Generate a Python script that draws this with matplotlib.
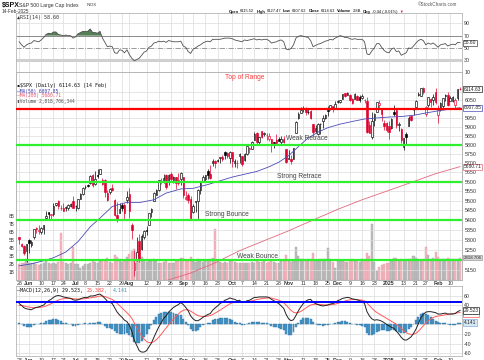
import matplotlib
matplotlib.use('Agg')
import matplotlib.pyplot as plt
import numpy as np
from matplotlib.ticker import FixedLocator, NullLocator

plt.rcParams['font.family'] = ['Liberation Sans', 'DejaVu Sans']

# ---------------- data (daily, 28-May-2024 .. 14-Feb-2025) ----------------
opens = [5315, 5278, 5270, 5244,
         5297, 5275, 5314, 5358, 5343, 5341, 5353, 5409, 5441, 5424, 5432, 5477, 5500, 5460, 5460, 5461, 5460, 5473, 5499,
         5471, 5461, 5507, 5537, 5573, 5584, 5591, 5635, 5590, 5638, 5644, 5610, 5608, 5543, 5545, 5566, 5505, 5428, 5434, 5476, 5478, 5505,
         5537, 5376, 5151, 5206, 5294, 5253, 5312, 5351, 5376, 5442, 5501, 5530, 5557, 5603, 5603, 5637, 5603, 5639, 5602, 5624, 5607, 5612,
         5624, 5507, 5532, 5507, 5443, 5491, 5496, 5557, 5603, 5616, 5655, 5641, 5703, 5709, 5712, 5727, 5733, 5762, 5756, 5727,
         5758, 5699, 5699, 5736, 5737, 5715, 5751, 5779, 5776, 5829, 5867, 5816, 5875, 5860, 5857, 5833, 5834, 5817, 5827, 5834, 5818, 5833, 5775,
         5723, 5725, 5722, 5864, 5947, 5976, 6009, 6004, 5986, 5989, 5913, 5877, 5860, 5917, 5930, 5947, 5993, 6000, 6015, 6004,
         6041, 6043, 6059, 6090, 6081, 6083, 6057, 6060, 6074, 6068, 6063, 6053, 6048, 5912, 5842, 5940, 5985, 6024, 6006, 5920, 5920,
         5903, 5892, 5982, 5993, 5910, 5890, 5789, 5862, 5905, 5962, 5995, 6014, 6082, 6076, 6121, 5970, 6026, 6058, 6051, 6096,
         5969, 5998, 6020, 6073, 6083, 6047, 6049, 6025, 6061, 6115.52]
highs = [5315, 5282, 5271, 5280,
         5302, 5299, 5354, 5362, 5376, 5365, 5376, 5448, 5441, 5432, 5488, 5487, 5506, 5479, 5490, 5472, 5483, 5490, 5524,
         5479, 5510, 5539, 5570, 5583, 5590, 5636, 5642, 5655, 5670, 5669, 5622, 5615, 5557, 5567, 5586, 5508, 5491, 5488, 5487, 5489, 5551,
         5566, 5383, 5250, 5312, 5331, 5327, 5351, 5371, 5436, 5463, 5546, 5564, 5608, 5620, 5643, 5644, 5641, 5652, 5631, 5627, 5647, 5651,
         5626, 5552, 5540, 5523, 5484, 5501, 5560, 5600, 5636, 5637, 5670, 5690, 5721, 5716, 5725, 5735, 5742, 5767, 5763, 5765,
         5758, 5720, 5718, 5753, 5739, 5755, 5796, 5790, 5822, 5871, 5870, 5843, 5879, 5873, 5867, 5863, 5834, 5818, 5862, 5842, 5848, 5850, 5776,
         5772, 5742, 5784, 5933, 5983, 6012, 6018, 6010, 6009, 5993, 5916, 5908, 5924, 5920, 5965, 5973, 6020, 6025, 6020, 6045,
         6053, 6052, 6087, 6095, 6099, 6089, 6065, 6093, 6080, 6079, 6086, 6057, 6071, 5935, 5982, 5978, 6041, 6050, 6006, 5941, 5929,
         5935, 5950, 6022, 6001, 5927, 5891, 5837, 5871, 5960, 5965, 6009, 6051, 6100, 6119, 6128, 6018, 6070, 6062, 6086, 6121,
         6023, 6042, 6062, 6084, 6101, 6074, 6076, 6063, 6116, 6127.47]
lows = [5280, 5262, 5222, 5191,
        5234, 5265, 5304, 5335, 5331, 5331, 5327, 5404, 5403, 5403, 5421, 5472, 5455, 5451, 5447, 5447, 5451, 5469, 5460,
        5446, 5455, 5507, 5531, 5563, 5574, 5587, 5571, 5583, 5619, 5639, 5583, 5522, 5497, 5534, 5550, 5419, 5390, 5434, 5445, 5398, 5487,
        5410, 5302, 5120, 5193, 5191, 5247, 5304, 5326, 5376, 5418, 5501, 5530, 5551, 5586, 5591, 5560, 5585, 5602, 5593, 5560, 5585, 5581,
        5512, 5503, 5488, 5402, 5435, 5442, 5406, 5536, 5600, 5605, 5614, 5615, 5682, 5675, 5705, 5698, 5712, 5721, 5728, 5703,
        5681, 5679, 5675, 5702, 5687, 5714, 5745, 5755, 5776, 5829, 5804, 5804, 5840, 5846, 5825, 5822, 5762, 5784, 5799, 5823, 5804, 5810, 5703,
        5723, 5696, 5722, 5864, 5946, 5976, 5985, 5969, 5973, 5946, 5854, 5866, 5853, 5860, 5896, 5946, 5963, 5993, 5985, 6004,
        6033, 6033, 6058, 6071, 6080, 6048, 6029, 6060, 6050, 6039, 6060, 6035, 5868, 5866, 5832, 5903, 5983, 6004, 5933, 5880, 5869,
        5830, 5888, 5961, 5891, 5874, 5809, 5773, 5802, 5905, 5931, 5966, 6007, 6076, 6074, 6089, 5962, 6013, 6012, 6024, 6030,
        5923, 5990, 6007, 6045, 6020, 6047, 6042, 6003, 6050, 6107.62]
closes = [5306, 5267, 5235, 5278,
          5283, 5291, 5354, 5352, 5347, 5360, 5375, 5421, 5433, 5431, 5473, 5487, 5473, 5464, 5448, 5469, 5478, 5483, 5460,
          5475, 5509, 5537, 5567, 5572, 5577, 5633, 5585, 5615, 5631, 5667, 5588, 5545, 5505, 5564, 5555, 5427, 5399, 5459, 5464, 5436, 5522,
          5446, 5347, 5186, 5240, 5199, 5319, 5344, 5344, 5434, 5455, 5543, 5554, 5608, 5597, 5621, 5570, 5634, 5616, 5625, 5592, 5591, 5648,
          5529, 5520, 5503, 5408, 5471, 5496, 5554, 5596, 5626, 5634, 5634, 5618, 5714, 5703, 5718, 5732, 5722, 5745, 5738, 5762,
          5709, 5710, 5700, 5751, 5696, 5751, 5792, 5780, 5815, 5859, 5815, 5843, 5841, 5865, 5853, 5851, 5797, 5809, 5808, 5823, 5832, 5813, 5705,
          5729, 5712, 5782, 5929, 5973, 5995, 6001, 5984, 5985, 5949, 5870, 5894, 5917, 5917, 5949, 5969, 5987, 6021, 5999, 6032,
          6047, 6050, 6087, 6075, 6090, 6053, 6034, 6084, 6051, 6051, 6074, 6050, 5872, 5867, 5931, 5975, 6040, 6037, 5971, 5907, 5882,
          5869, 5942, 5975, 5909, 5918, 5827, 5836, 5843, 5950, 5937, 5997, 6049, 6086, 6119, 6101, 6012, 6068, 6039, 6071, 6041,
          5994, 6037, 6061, 6083, 6026, 6066, 6068, 6052, 6115, 6114.63]
volume_b = [2.0, 2.1, 2.1, 2.6,
            2.1, 2.2, 2.2, 2.0, 1.9, 2.0, 2.2, 2.4, 2.1, 2.0, 2.1, 2.0, 2.3, 5.9, 2.3, 2.2, 2.0, 2.1, 4.2,
            2.0, 2.0, 1.5, 1.8, 2.0, 2.0, 2.1, 2.5, 2.3, 2.2, 2.4, 2.5, 2.5, 2.8, 2.3, 2.2, 3.2, 2.9, 2.6, 2.3, 2.4, 2.9,
            3.3, 3.6, 3.9, 3.4, 3.2, 2.9, 2.4, 2.3, 2.4, 2.4, 2.6, 2.4, 2.2, 2.2, 2.3, 2.4, 2.2, 2.2, 2.2, 2.5, 2.4, 2.8,
            2.8, 2.5, 2.4, 2.9, 2.4, 2.3, 2.6, 2.4, 2.3, 2.4, 2.5, 2.7, 2.8, 6.4, 2.3, 2.3, 2.2, 2.3, 2.2, 2.5,
            2.5, 2.3, 2.2, 2.2, 2.2, 2.1, 2.1, 2.2, 2.3, 2.2, 2.4, 2.3, 2.3, 2.4, 2.2, 2.3, 2.4, 2.3, 2.2, 2.2, 2.4, 2.5, 3.2,
            2.5, 2.3, 2.5, 4.1, 3.0, 2.7, 2.6, 2.5, 2.6, 2.7, 3.4, 2.5, 2.4, 2.6, 2.7, 2.7, 4.0, 2.6, 2.3, 1.5,
            2.5, 2.4, 2.4, 2.3, 2.3, 2.5, 2.6, 2.4, 2.4, 2.3, 2.6, 2.5, 3.4, 3.0, 7.0, 2.3, 1.1, 1.6, 1.9, 2.0, 2.1,
            2.2, 2.4, 2.8, 2.8, 2.5, 2.7, 2.5, 2.6, 2.7, 2.6, 3.0, 2.8, 2.6, 2.5, 2.7, 4.1, 3.2, 2.7, 2.8, 3.5,
            2.9, 2.6, 2.7, 2.6, 2.8, 2.6, 2.6, 2.6, 2.7, 2.82]
rsi14 = [60, 55, 51, 55, 57, 58, 62, 61, 60, 63,
         67, 72, 74, 73, 76, 76, 72, 71, 70, 71,
         70, 70, 66, 68, 73, 75, 77, 77, 77, 81,
         75, 75, 74, 77, 66, 59, 52, 53, 52, 42,
         41, 47, 46, 42, 47, 39, 33, 29, 31, 33,
         38, 43, 45, 51, 53, 58, 59, 61, 60, 61,
         59, 62, 61, 60, 60, 60, 61, 53, 51, 44,
         41, 48, 50, 53, 55, 58, 60, 61, 60, 64,
         64, 64, 64, 65, 66, 66, 66, 65, 63, 62,
         61, 60, 63, 62, 63, 64, 65, 63, 64, 63,
         64, 64, 62, 58, 59, 60, 62, 63, 60, 48,
         47, 49, 55, 66, 69, 70, 69, 68, 67, 62,
         52, 54, 56, 57, 59, 61, 62, 64, 63, 66,
         68, 70, 69, 67, 67, 65, 64, 65, 64, 64,
         64, 60, 40, 39, 45, 50, 57, 57, 51, 46,
         43, 42, 48, 50, 44, 45, 38, 40, 42, 50,
         49, 53, 58, 62, 64, 62, 55, 58, 56, 58,
         55, 51, 55, 56, 57, 53, 55, 56, 55, 59, 58.6]
macd_line = [44, 40, 35, 33, 32, 31, 34, 36, 37, 39,
             41, 46, 50, 53, 57, 60, 61, 60, 58, 57,
             56, 55, 52, 51, 52, 54, 56, 57, 57, 60,
             60, 61, 63, 64, 60, 55, 49, 47, 44, 35,
             26, 20, 15, 9, 6, -2, -14, -33, -44, -55,
             -58, -58, -55, -47, -39, -27, -16, -5, 4, 13,
             18, 26, 31, 36, 39, 42, 46, 42, 36, 29,
             18, 12, 8, 8, 11, 15, 18, 21, 23, 30,
             35, 39, 44, 47, 51, 53, 56, 54, 53, 50,
             51, 46, 47, 50, 51, 54, 57, 57, 58, 58,
             58, 58, 57, 53, 50, 47, 44, 39, 34, 21,
             12, 8, 10, 19, 29, 37, 44, 49, 52, 53,
             47, 44, 42, 40, 39, 40, 41, 43, 44, 46,
             50, 52, 55, 56, 57, 56, 54, 53, 52, 50,
             49, 44, 27, 18, 12, 9, 10, 9, 7, 4,
             0, -3, -6, -8, -14, -20, -27, -32, -33, -30,
             -26, -19, -10, 2, 14, 21, 26, 27, 27, 26,
             25, 22, 22, 23, 24, 22, 22, 22, 23, 27, 29.523]
macd_signal = [40, 40, 39, 37.8, 36.6, 35.5, 35.2, 35.4, 35.7, 36.4,
               37.3, 39, 41.2, 43.6, 46.3, 49, 51.4, 53.1, 54.1, 54.7,
               54.9, 54.9, 54.4, 53.7, 53.3, 53.5, 54, 54.6, 55.1, 56.1,
               56.8, 57.7, 58.7, 59.8, 59.8, 58.9, 56.9, 54.9, 52.7, 49.2,
               44.5, 39.6, 34.7, 29.6, 24.8, 19.5, 12.8, 3.6, -5.9, -15.7,
               -24.2, -30.9, -35.7, -38, -38.2, -36, -32, -26.6, -20.5, -13.8,
               -7.4, -0.7, 5.6, 11.7, 17.1, 22.1, 26.9, 29.9, 31.1, 30.7,
               28.2, 24.9, 21.5, 18.8, 17.3, 16.8, 17, 17.8, 18.9, 21.1,
               23.9, 26.9, 30.3, 33.7, 37.1, 40.3, 43.4, 45.5, 47, 47.6,
               48.3, 47.8, 47.7, 48.1, 48.7, 49.8, 51.2, 52.4, 53.5, 54.4,
               55.1, 55.7, 56, 55.4, 54.3, 52.8, 51.1, 48.7, 45.7, 40.8,
               35, 29.6, 25.7, 24.4, 25.3, 27.6, 30.9, 34.5, 38, 41,
               42.2, 42.6, 42.5, 42, 41.4, 41.1, 41.1, 41.5, 42, 42.8,
               44.2, 45.8, 47.6, 49.3, 50.8, 51.9, 52.3, 52.4, 52.3, 51.9,
               51.3, 49.8, 45.3, 39.8, 34.3, 29.2, 25.4, 22.1, 19.1, 16.1,
               12.9, 9.7, 6.6, 3.7, 0.2, -3.9, -8.5, -13.2, -17.2, -19.7,
               -21, -20.6, -18.5, -14.4, -8.7, -2.8, 3, 7.8, 11.6, 14.5,
               16.6, 17.7, 18.5, 19.4, 20.4, 21.5, 22.3, 22.9, 23.5, 24.4, 25.382]
ma50_days = [0, 5, 10, 14, 19, 24, 29, 33, 38, 44, 49, 55, 60, 66, 71, 77, 82, 87, 92, 97,
             102, 106, 110, 114, 118, 122, 126, 131, 136, 141, 146, 151, 156, 161, 166, 171, 176, 180]
ma50_vals = [5170, 5180, 5195, 5210, 5238, 5290, 5365, 5410, 5470, 5492, 5490, 5505, 5540, 5562, 5565, 5585, 5605, 5625, 5640, 5655,
             5680, 5705, 5740, 5790, 5838, 5870, 5895, 5915, 5930, 5944, 5950, 5955, 5958, 5965, 5978, 5990, 6000, 6008]
ma200_days = [55, 62, 70, 80, 90, 100, 110, 120, 130, 140, 150, 160, 170, 180]
ma200_vals = [5080, 5105, 5135, 5185, 5245, 5295, 5345, 5400, 5455, 5505, 5550, 5596, 5643, 5681]

tick_days = [0, 4, 9, 14, 18, 23, 27, 32, 37, 42, 45, 52, 57, 62, 67, 71, 76, 81, 87, 91, 96, 101, 106,
             110, 116, 121, 126, 130, 135, 140, 145, 151, 157, 162, 166, 171, 176]
tick_labels = ['28', 'Jun', '10', '17', '24', 'Jul', '8', '15', '22', '29', 'Aug', '12', '19', '26', 'Sep', '9', '16', '23',
               'Oct', '7', '14', '21', '28', 'Nov', '11', '18', '25', 'Dec', '9', '16', '23', '2025', '13', '21', '27', 'Feb', '10']

top_level = 6000
green_levels = [5800, 5600, 5400, 5200]
level_notes = ['Weak Retrace', 'Strong Retrace', 'Strong Bounce', 'Weak Bounce']

# ---------------- figure ----------------
W, H = 485, 360
fig = plt.figure(figsize=(4.85, 3.6), dpi=100)
fig.patch.set_facecolor('white')


def panel(top, bottom):
    return [16 / W, 1 - bottom / H, 446 / W, (bottom - top) / H]


ax_rsi = fig.add_axes(panel(13, 72.4))
ax_vol = fig.add_axes(panel(72.4, 280))
ax = ax_vol.twinx()
ax_macd = fig.add_axes(panel(286, 356))

x = np.arange(len(closes))
XL = (-1.3, 180.8)
GRID = '#dcdcdc'
LBL = '#333333'
FS = 3.8

for a in (ax_rsi, ax_vol, ax, ax_macd):
    a.set_xlim(*XL)
    a.set_xticks(tick_days)
    for s in a.spines.values():
        s.set_color('#b5b5b5')
        s.set_linewidth(0.6)
    a.tick_params(length=0, labelsize=FS, colors=LBL, pad=1.5)

for a in (ax_rsi, ax_vol, ax_macd):
    a.grid(axis='x', color=GRID, lw=0.5)
    a.set_axisbelow(True)


def right_box(a, val, s, ec, fc='white', z=10):
    a.annotate(s, xy=(1, val), xycoords=('axes fraction', 'data'), xytext=(1.2, 0),
               textcoords='offset points', va='center', ha='left', fontsize=3.5, color='#222',
               bbox=dict(boxstyle='square,pad=0.12', fc=fc, ec=ec, lw=0.5), annotation_clip=False, zorder=z)


def bold_months(a):
    for t in a.get_xticklabels():
        if not t.get_text().isdigit() or t.get_text() == '2025':
            t.set_fontweight('bold')


# ---- RSI ----
rsi = np.array(rsi14, dtype=float)
ax_rsi.set_ylim(10, 107)
ax_rsi.axhline(30, color='#d0d0d0', lw=2.2, zorder=1)
ax_rsi.axhline(70, color='#8a8a8a', lw=0.7, zorder=1)
ax_rsi.axhline(50, color='#8a8a8a', lw=0.6, ls='-.', zorder=1)
ax_rsi.axhline(90, color=GRID, lw=0.5, zorder=0)
ax_rsi.fill_between(x, 70, rsi, where=rsi >= 70, interpolate=True, color='#557f55', lw=0, zorder=2)
ax_rsi.plot(x, rsi, color='#505050', lw=0.6, zorder=3)
ax_rsi.yaxis.tick_right()
ax_rsi.set_yticks([90, 70, 50, 30, 10])
ax_rsi.set_xticklabels([])
right_box(ax_rsi, rsi14[-1], '58.60', '#444444')

# ---- volume (behind) ----
prev_close = [opens[0]] + closes[:-1]
up = [c >= p for c, p in zip(closes, prev_close)]
vcol = ['#bdbdbd' if u else '#f2b5be' for u in up]
ax_vol.bar(x, volume_b, width=0.85, color=vcol, edgecolor=['#a8a8a8' if u else '#e8a0aa' for u in up],
           lw=0.3, zorder=1)
ax_vol.set_ylim(0, 209 / 8)
ax_vol.set_yticks(range(1, 9))
ax_vol.set_yticklabels([f'{v}B' for v in range(1, 9)])
ax_vol.tick_params(axis='y', labelsize=3.4, pad=1)
ax_vol.set_xticklabels(tick_labels)
bold_months(ax_vol)
ax_vol.tick_params(axis='x', pad=0.8)
ax_vol.annotate('2818.706', xy=(1, volume_b[-1]), xycoords=('axes fraction', 'data'), xytext=(1.2, 0),
                textcoords='offset points', va='center', ha='left', fontsize=3.2, color='#222',
                bbox=dict(boxstyle='square,pad=0.12', fc='#d8d8d8', ec='#999', lw=0.5), annotation_clip=False,
                zorder=10)

# ---- price (log) ----
ax.set_yscale('log')
ax.set_ylim(5101, 6213)
price_ticks = list(range(5150, 6101, 50))
hidden = {6100, 6000, 5200}          # covered by the value boxes on the reference
ax.yaxis.set_major_locator(FixedLocator(price_ticks))
ax.yaxis.set_minor_locator(NullLocator())
ax.set_yticks(price_ticks)
ax.set_yticklabels(['' if p in hidden else str(p) for p in price_ticks])
ax.tick_params(axis='y', labelsize=FS, pad=2)
for p in price_ticks:
    ax.axhline(p, color=GRID, lw=0.5, zorder=0)

for i in x:
    o, hi, lo, c = opens[i], highs[i], lows[i], closes[i]
    col = '#000000' if up[i] else '#e0002c'
    ax.vlines(i, lo, hi, color=col, lw=0.5, zorder=3)
    face = 'white' if c >= o else col
    ax.bar(i, max(abs(c - o), 1.0), bottom=min(o, c), width=0.62, facecolor=face,
           edgecolor=col, lw=0.45, zorder=4)

ax.plot(ma50_days, ma50_vals, color='#4b4bb8', lw=0.6, zorder=5)
ax.plot(ma200_days, ma200_vals, color='#e5677f', lw=0.6, zorder=5)

ax.axhline(top_level, color='#ff0000', lw=1.6, zorder=6)
for lv in green_levels:
    ax.axhline(lv, color='#2ef02e', lw=1.6, zorder=6)

ax.text(92, 6184, 'Top of Range', color='#ff3b3b', fontsize=4.8, ha='center', va='center', zorder=7)
note_pos = [(109, 5833), (105.3, 5627), (75.9, 5429), (88.9, 5218)]
for (nx, ny), s in zip(note_pos, level_notes):
    ax.text(nx, ny, s, color='#444444', fontsize=4.8, ha='left', va='center', zorder=7)

right_box(ax, closes[-1], '6114.63', '#222222')
right_box(ax, ma50_vals[-1], '6007.85', '#4b4bb8')
right_box(ax, ma200_vals[-1], '5680.71', '#e5677f')

# ---- MACD ----
macd = np.array(macd_line, dtype=float)
sig = np.array(macd_signal, dtype=float)
hist = macd - sig
ax_macd.set_ylim(-66.3, 81)
macd_ticks = [60, 40, 20, 0, -20, -40, -60]
ax_macd.set_yticks(macd_ticks)
ax_macd.set_yticklabels(['' if v in (20, 0) else str(v) for v in macd_ticks])
ax_macd.yaxis.tick_right()
for v in macd_ticks:
    ax_macd.axhline(v, color=GRID, lw=0.5, zorder=0)
ax_macd.bar(x, hist, width=0.8, color='#4a97c8', edgecolor='#2d74a6', lw=0.3, zorder=2)
ax_macd.plot(x, sig, color='#ff5a5a', lw=0.7, zorder=3)
ax_macd.plot(x, macd, color='#222222', lw=0.7, zorder=4)
ax_macd.axhline(47, color='#0000ff', lw=1.4, zorder=5)
ax_macd.set_xticklabels(tick_labels)
bold_months(ax_macd)
right_box(ax_macd, macd_signal[-1] - 3, '25.382', '#ff5a5a', z=9)
right_box(ax_macd, macd_line[-1], '29.523', '#222222', z=10)
right_box(ax_macd, hist[-1], '4.141', '#7fb2d8', fc='#d7e8f5')

# ---- texts ----
MONO = ['DejaVu Sans Mono', 'DejaVu Sans']


def ftext(px, py, s, **kw):
    return fig.text(px / W, 1 - py / H, s, va='center', ha='left', **kw)


ftext(1.5, 5, '$SPX', fontsize=5.0, fontweight='bold', color='#111')
ftext(19, 5, 'S&P 500 Large Cap Index', fontsize=3.7, color='#333')
ftext(87, 5, 'INDX', fontsize=3.0, color='#333')
ftext(2, 11.5, '14-Feb-2025', fontsize=3.4, color='#333')
ftext(418, 4, '\u00a9StockCharts.com', fontsize=3.3, color='#555')

hdr = [('Open', True), ('6115.52', False), ('High', True), ('6127.47', False),
       ('Low', True), ('6107.62', False), ('Close', True), ('6114.63', False),
       ('Volume', True), ('2.8B', False), ('Chg', True), ('-0.44 (-0.01%)', False)]
fig.canvas.draw()
rend = fig.canvas.get_renderer()
hx = 229
for s, b in hdr:
    t = ftext(hx, 11.5, s, fontsize=2.85, fontweight='bold' if b else 'normal', color='#111')
    hx += t.get_window_extent(renderer=rend).width + (1.0 if b else 2.2)
ftext(hx, 11.5, '\u25bc', fontsize=2.6, color='#e0002c')

ftext(17, 18, '\u25b2RSI(14) 58.60', fontsize=3.6, family=MONO, color='#333')
ftext(17, 86, '\u25aa$SPX (Daily) 6114.63 (14 Feb)', fontsize=3.6, family=MONO, color='#111')
ftext(17, 91, '\u2014MA(50) 6007.85', fontsize=3.3, family=MONO, color='#3b3bb0')
ftext(17, 96, '\u2014MA(200) 5680.71', fontsize=3.3, family=MONO, color='#e0506a')
ftext(17, 101.5, '\u25aeVolume 2,818,706,344', fontsize=3.3, family=MONO, color='#555')
ftext(17, 290.5, '\u2014MACD(12,26,9) 29.523,', fontsize=3.6, family=MONO, color='#111')
ftext(87, 290.5, '25.382,', fontsize=3.6, family=MONO, color='#ff4040')
ftext(113, 290.5, '4.141', fontsize=3.6, family=MONO, color='#3a8fc4')

fig.savefig('out.png', dpi=100)
